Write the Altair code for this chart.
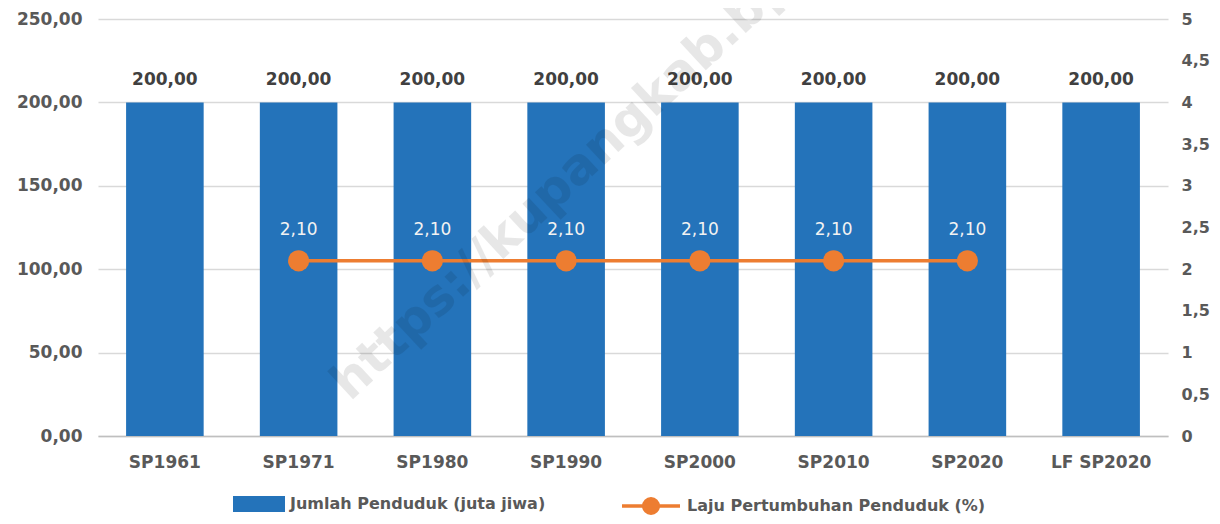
import altair as alt
import pandas as pd

categories = ["SP1961", "SP1971", "SP1980", "SP1990", "SP2000", "SP2010", "SP2020", "LF SP2020"]
jumlah = [200, 200, 200, 200, 200, 200, 200, 200]
laju = [None, 2.1, 2.1, 2.1, 2.1, 2.1, 2.1, None]
series_bar = "Jumlah Penduduk (juta jiwa)"
series_line = "Laju Pertumbuhan Penduduk (%)"
watermark = "https://kupangkab.bps.go.id"

BLUE = "#2473BA"
ORANGE = "#ED7D31"
FONT = "DejaVu Sans"
GRAY = "#595959"

df = pd.DataFrame({
    "cat": categories,
    "pop": jumlah,
    "rate": laju,
    "s1": [series_bar] * len(categories),
    "s2": [series_line] * len(categories),
})

xenc = alt.X("cat:N", sort=categories,
             scale=alt.Scale(paddingInner=0.42, paddingOuter=0.21),
             axis=alt.Axis(title=None, labelAngle=0, labelFont=FONT, labelFontSize=17,
                           labelFontWeight="bold", labelColor=GRAY, labelPadding=18,
                           ticks=False, domainColor="#BFBFBF", domainWidth=1.5, grid=False))

yleft = alt.Y("pop:Q", scale=alt.Scale(domain=[0, 250], nice=False),
              axis=alt.Axis(title=None, values=[0, 50, 100, 150, 200, 250],
                            labelExpr="replace(format(datum.value, '.2f'), '.', ',')",
                            labelFont=FONT, labelFontSize=17, labelFontWeight="bold",
                            labelColor=GRAY, labelPadding=16, ticks=False, domain=False,
                            grid=True, gridColor="#D9D9D9", gridWidth=1.5))

base = alt.Chart(df)

bars = base.mark_bar().encode(
    x=xenc,
    y=yleft,
    fill=alt.Fill("s1:N", scale=alt.Scale(domain=[series_bar], range=[BLUE]),
                  legend=alt.Legend(title=None, orient="none", legendX=135, legendY=459,
                                    padding=0, symbolType="M-1,-0.3077H1V0.3077H-1Z",
                                    symbolSize=2704, symbolStrokeWidth=0, labelOffset=5,
                                    labelFont=FONT, labelFontSize=16, labelFontWeight="bold",
                                    labelColor=GRAY, labelLimit=400)),
)

bar_labels = base.mark_text(dy=-22, font=FONT, fontSize=17, fontWeight="bold",
                            color="#404040").transform_calculate(
    lab="replace(format(datum.pop, '.2f'), '.', ',')"
).encode(x=alt.X("cat:N", sort=categories), y=alt.Y("pop:Q"), text="lab:N")

left = alt.layer(bars, bar_labels)

yright = alt.Y("rate:Q", scale=alt.Scale(domain=[0, 5], nice=False),
               axis=alt.Axis(title=None, orient="right",
                             values=[0, 0.5, 1, 1.5, 2, 2.5, 3, 3.5, 4, 4.5, 5],
                             labelExpr="replace(toString(datum.value), '.', ',')",
                             labelFont=FONT, labelFontSize=16, labelFontWeight="bold",
                             labelColor=GRAY, labelPadding=13, ticks=False, domain=False,
                             grid=False))

line_df = base.transform_filter("isValid(datum.rate)")

line = line_df.mark_line(strokeWidth=3.5).encode(
    x=alt.X("cat:N", sort=categories),
    y=yright,
    stroke=alt.Stroke("s2:N", scale=alt.Scale(domain=[series_line], range=[ORANGE]),
                      legend=alt.Legend(title=None, orient="none", legendX=522, legendY=456,
                                        padding=0,
                                        symbolType="M-1,0H1M-0.25,0A0.25,0.25,0,1,1,0.25,0A0.25,0.25,0,1,1,-0.25,0Z",
                                        symbolSize=3364, symbolStrokeWidth=3.5,
                                        symbolFillColor=ORANGE, labelOffset=5,
                                        labelFont=FONT, labelFontSize=16, labelFontWeight="bold",
                                        labelColor=GRAY, labelLimit=400)),
)

points = line_df.mark_point(filled=True, size=450, opacity=1, color=ORANGE).encode(
    x=alt.X("cat:N", sort=categories), y=alt.Y("rate:Q"))

line_labels = line_df.mark_text(dy=-31, font=FONT, fontSize=17, color="#F2F2F2").transform_calculate(
    lab="replace(format(datum.rate, '.2f'), '.', ',')"
).encode(x=alt.X("cat:N", sort=categories), y=alt.Y("rate:Q"), text="lab:N")

right = alt.layer(line, points, line_labels)

wm = alt.Chart(pd.DataFrame({"t": [watermark]})).mark_text(
    align="left", baseline="alphabetic", angle=317, font=FONT, fontSize=50,
    fontWeight="bold", color="#000000", opacity=0.09
).encode(text="t:N", x=alt.value(252), y=alt.value(383))

chart = alt.layer(left, right, wm).resolve_scale(
    y="independent", fill="independent", stroke="independent"
).properties(
    width=1070, height=417,
    padding={"left": 90, "top": 11, "right": 44, "bottom": 80},
    autosize="none",
).configure_view(stroke=None)

chart.save("out.html", embed_options={"renderer": "svg", "actions": False})
